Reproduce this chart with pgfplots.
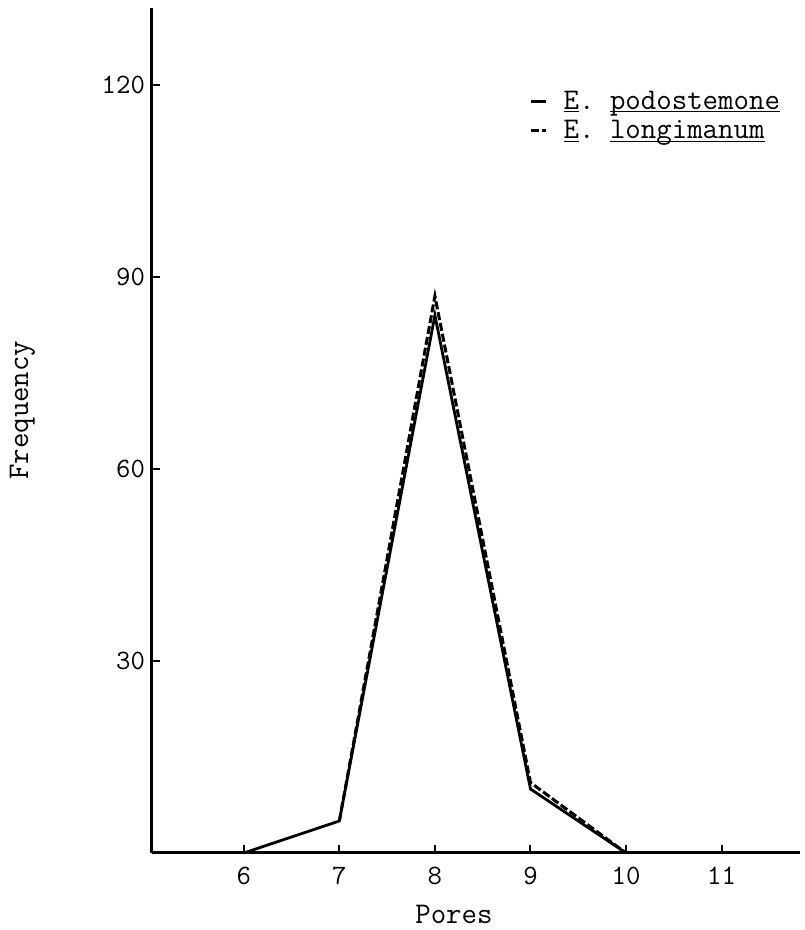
\documentclass[border=0pt]{standalone}
\usepackage{pgfplots}
\pgfplotsset{compat=1.18}
\renewcommand{\familydefault}{\ttdefault}
\frenchspacing
\newcommand\ul[1]{\underline{\smash{#1}}}
\begin{document}
\begin{tikzpicture}
\path[use as bounding box] (-76pt,-38.5pt) rectangle (326pt,426.5pt);
\begin{axis}[
  scale only axis,
  width=324pt, height=422.5pt,
  at={(0,0)}, anchor=south west,
  xmin=5.04, xmax=11.82,
  ymin=0, ymax=132,
  axis lines*=left,
  axis line style={line width=1.5pt},
  xtick={6,7,8,9,10,11},
  ytick={30,60,90,120},
  tick align=inside,
  major tick length=4pt,
  tick style={line width=1pt, black},
  /pgf/number format/assume math mode=true,
  ticklabel style={font=\fontsize{14}{16}\selectfont\ttfamily},
  xticklabel style={yshift=-3.5pt},
  xlabel={Pores},
  ylabel={Frequency},
  label style={font=\fontsize{15}{17}\selectfont\ttfamily},
  xlabel style={at={(axis description cs:0.466,0)}, anchor=north, yshift=-22.5pt},
  ylabel style={at={(axis description cs:0,0.524)}, anchor=south, yshift=55pt},
  legend style={draw=none, fill=none, at={(axis description cs:0.573,0.912)}, anchor=north west,
    font=\fontsize{15}{17}\selectfont\ttfamily, row sep=0pt, cells={anchor=west}},
  legend image code/.code={\draw[#1] (0cm,0cm) -- (7.5pt,0cm);},
]
\addplot[black, line width=1.4pt] coordinates {(6,0) (7,5) (8,84) (9,10) (10,0)};
\addlegendentry{\hspace{6pt}\vphantom{Ep}\ul{E}. \ul{podostemone}}
\addplot[black, line width=1.5pt, dash pattern=on 4pt off 1.5pt] coordinates {(7,5) (8,87) (9,11) (10,0)};
\addlegendentry{\hspace{6pt}\vphantom{Ep}\ul{E}. \ul{longimanum}}
\end{axis}
\end{tikzpicture}
\end{document}
